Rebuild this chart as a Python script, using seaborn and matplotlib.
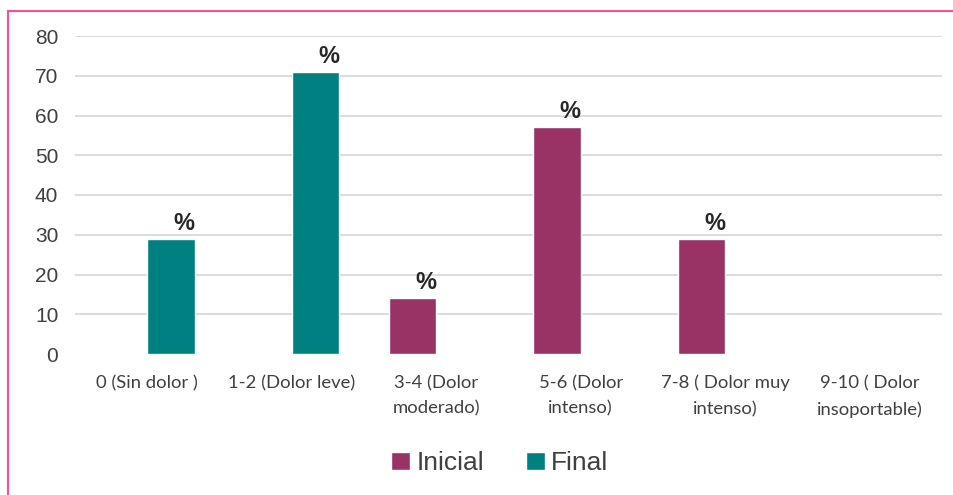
import matplotlib
matplotlib.use("Agg")
import matplotlib.pyplot as plt
import seaborn as sns
import pandas as pd
from matplotlib.patches import Rectangle

categories = ["0 (Sin dolor )", "1-2 (Dolor leve)", "3-4 (Dolor\nmoderado)",
              "5-6 (Dolor\nintenso)", "7-8 ( Dolor muy\nintenso)", "9-10 ( Dolor\ninsoportable)"]
inicial = [0, 0, 14, 57, 29, 0]
final = [29, 71, 0, 0, 0, 0]
series = ["Inicial", "Final"]
colors = ["#993366", "#008080"]
yticks = [0, 10, 20, 30, 40, 50, 60, 70, 80]

df = pd.DataFrame({
    "cat": categories * 2,
    "val": inicial + final,
    "serie": ["Inicial"] * len(categories) + ["Final"] * len(categories),
})

sns.set_style("white")
plt.rcParams['font.family'] = ['Liberation Sans', 'DejaVu Sans']

fig = plt.figure(figsize=(9.54, 4.95), dpi=100)
ax = fig.add_axes([75/954, 141/495, (942-75)/954, (354-36)/495])

sns.barplot(data=df, x="cat", y="val", hue="serie", hue_order=series,
            palette=colors, width=0.66, ax=ax, saturation=1, legend=True)

ax.set_ylim(0, 80)
ax.set_yticks(yticks)
ax.set_xlim(-0.5, len(categories) - 0.5)
for y in yticks[1:]:
    ax.axhline(y, color="#d9d9d9", lw=1.3, zorder=0)
for s in ax.spines.values():
    s.set_visible(False)
ax.set_xlabel("")
ax.set_ylabel("")
ax.tick_params(axis="y", labelsize=15, labelcolor="#404040", length=0, pad=12)
ax.tick_params(axis="x", length=0, pad=15)
ax.set_xticks(range(len(categories)))
ax.set_xticklabels(categories, family=["Lato", "DejaVu Sans"], fontsize=13.3,
                   color="#404040", linespacing=1.75)

for cont in ax.containers:
    for b in cont:
        h = b.get_height()
        if h > 0:
            ax.annotate("%", (b.get_x() + b.get_width() / 2, h),
                        xytext=(13, 4), textcoords="offset pixels",
                        ha="center", va="bottom", fontsize=17, fontweight="bold",
                        color="#262626")

handles, labels = ax.get_legend_handles_labels()
ax.legend(handles, labels, loc="center", bbox_to_anchor=(0.5 + (500 - 508.5)/867, -(463 - 354)/318),
          ncol=2, frameon=False, fontsize=19, handlelength=0.7, handleheight=0.7,
          handletextpad=0.25, columnspacing=1.6, labelcolor="#404040")

fig.patches.append(Rectangle((8.5/954, -0.1), 1.2, (495 - 10.5)/495 + 0.1,
                             transform=fig.transFigure, fill=False,
                             edgecolor="#ff4d94", lw=1.5, zorder=10))

fig.savefig("out.png", dpi=100)
